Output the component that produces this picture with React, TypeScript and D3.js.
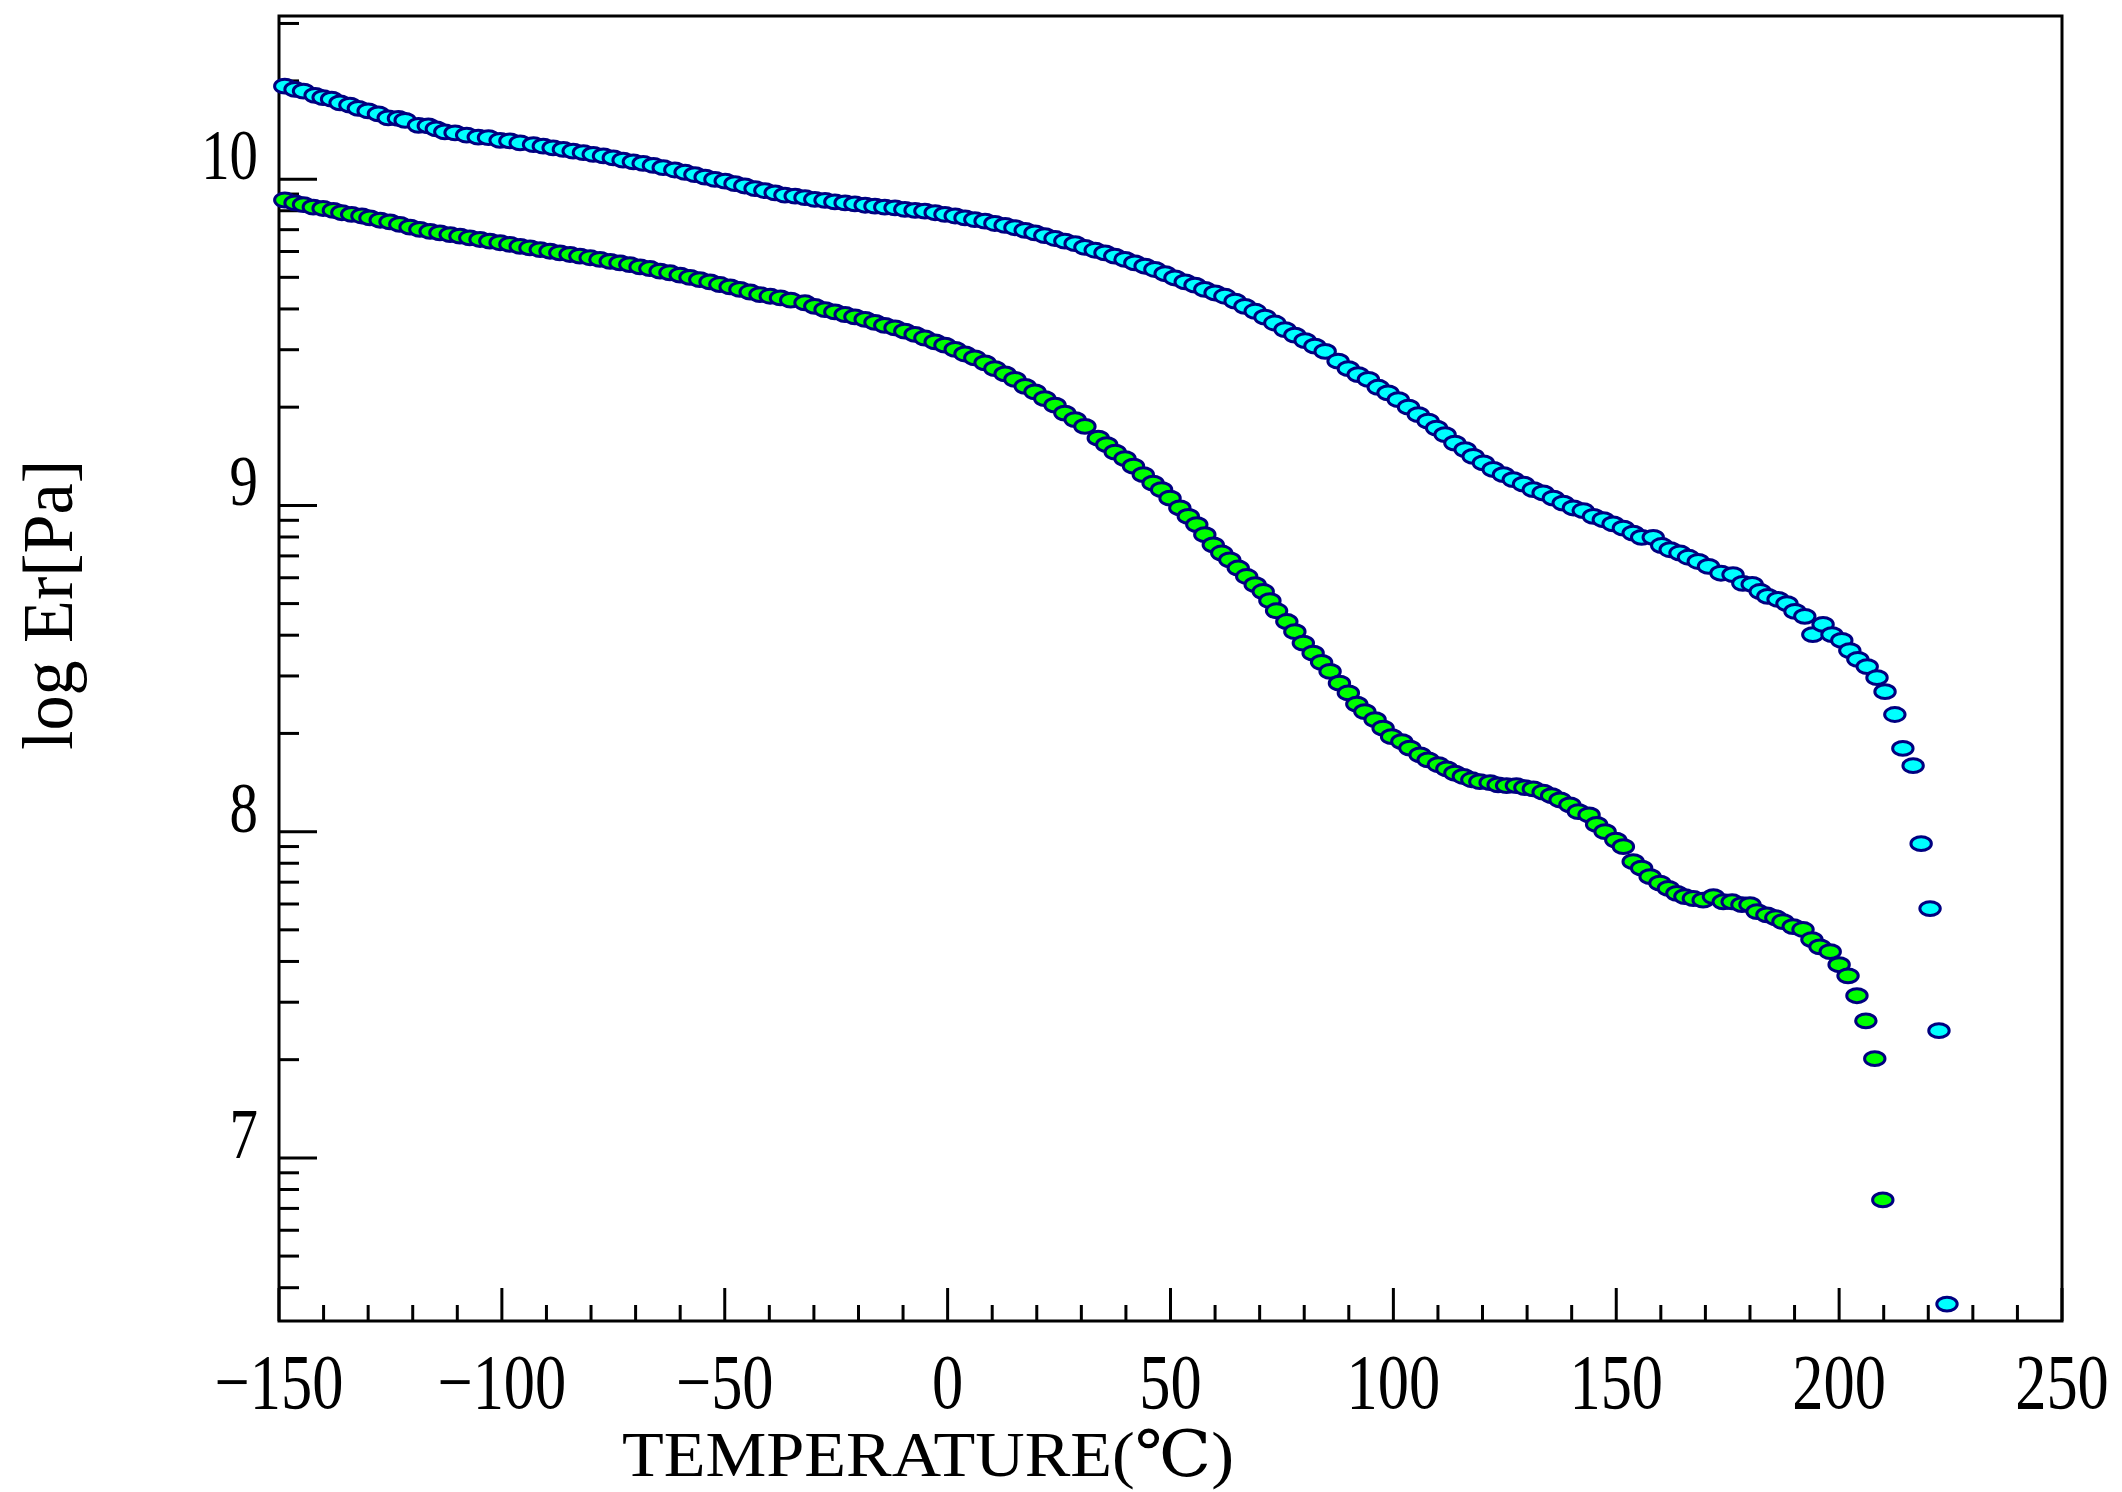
import React, { Component } from 'react';
import * as d3 from 'd3';

// upper series (cyan)
const upperTemps = [
    -148.7, -146.4, -144.5, -141.9, -140.1, -138.2, -136.3, -134.1, -132.2, -130.0,
    -127.7, -125.5, -123.2, -121.7, -118.7, -116.5, -114.7, -112.8, -110.5, -107.9,
    -105.3, -103.0, -100.4, -98.2, -95.9, -92.9, -90.7, -88.5, -86.2, -84.0,
    -81.7, -79.5, -77.2, -75.0, -72.8, -70.5, -68.3, -66.0, -63.8, -61.2,
    -58.9, -56.7, -54.4, -52.2, -49.9, -47.7, -45.5, -43.2, -41.0, -38.7,
    -36.5, -34.2, -32.0, -29.8, -27.5, -25.3, -23.0, -20.8, -18.5, -16.3,
    -14.1, -11.8, -9.6, -7.3, -5.1, -2.8, -0.6, 1.7, 3.9, 6.1,
    8.4, 10.6, 12.9, 15.1, 17.4, 19.6, 21.8, 24.1, 26.3, 28.6,
    30.8, 33.1, 35.3, 37.5, 39.8, 42.0, 44.3, 46.5, 48.8, 51.0,
    53.3, 55.5, 57.7, 60.0, 62.2, 64.5, 66.7, 69.0, 71.2, 73.4,
    75.7, 77.9, 80.2, 82.4, 84.7, 87.6, 89.9, 92.1, 94.4, 96.6,
    98.8, 101.1, 103.4, 105.6, 107.8, 109.7, 111.6, 113.8, 116.1, 117.9,
    120.2, 122.4, 124.7, 126.9, 129.2, 131.4, 133.6, 135.9, 138.1, 140.4,
    142.6, 144.9, 147.1, 149.3, 151.6, 153.8, 155.7, 158.3, 160.2, 162.1,
    164.3, 166.2, 168.4, 170.7, 173.5, 176.2, 178.4, 180.5, 182.3, 184.0,
    186.3, 188.3, 190.1, 192.3, 194.1, 196.4, 198.4, 200.6, 202.4, 204.2,
    206.3, 208.5, 210.3, 212.5, 214.3, 216.6, 218.4, 220.4, 222.4, 224.2,
];
const upperLogEr = [
    10.285, 10.275, 10.270, 10.257, 10.250, 10.245, 10.234, 10.227, 10.217, 10.209,
    10.200, 10.188, 10.186, 10.180, 10.165, 10.163, 10.154, 10.145, 10.142, 10.135,
    10.129, 10.127, 10.119, 10.117, 10.111, 10.106, 10.101, 10.096, 10.091, 10.086,
    10.081, 10.076, 10.071, 10.065, 10.058, 10.053, 10.048, 10.042, 10.035, 10.028,
    10.021, 10.014, 10.006, 9.999, 9.994, 9.986, 9.979, 9.971, 9.965, 9.958,
    9.951, 9.948, 9.943, 9.938, 9.935, 9.930, 9.927, 9.924, 9.920, 9.917,
    9.914, 9.912, 9.907, 9.904, 9.902, 9.897, 9.892, 9.887, 9.881, 9.876,
    9.871, 9.864, 9.858, 9.851, 9.843, 9.835, 9.827, 9.818, 9.810, 9.802,
    9.791, 9.782, 9.774, 9.764, 9.754, 9.743, 9.733, 9.723, 9.710, 9.697,
    9.685, 9.675, 9.662, 9.651, 9.641, 9.626, 9.610, 9.595, 9.577, 9.559,
    9.539, 9.522, 9.505, 9.488, 9.472, 9.442, 9.419, 9.401, 9.386, 9.362,
    9.345, 9.324, 9.301, 9.278, 9.258, 9.237, 9.217, 9.191, 9.171, 9.150,
    9.130, 9.110, 9.094, 9.079, 9.065, 9.048, 9.038, 9.022, 9.007, 8.992,
    8.984, 8.966, 8.956, 8.943, 8.930, 8.915, 8.902, 8.902, 8.877, 8.864,
    8.854, 8.841, 8.828, 8.813, 8.792, 8.788, 8.761, 8.758, 8.736, 8.721,
    8.712, 8.699, 8.675, 8.660, 8.604, 8.635, 8.604, 8.586, 8.555, 8.528,
    8.506, 8.472, 8.429, 8.359, 8.255, 8.202, 7.963, 7.764, 7.390, 6.552,
];

// lower series (green)
const lowerTemps = [
    -148.7, -146.4, -144.5, -142.3, -140.1, -137.8, -135.9, -133.7, -131.4, -129.6,
    -127.3, -125.1, -122.9, -120.6, -118.4, -116.1, -113.9, -111.6, -109.4, -107.2,
    -104.9, -102.7, -100.4, -98.2, -95.9, -93.7, -91.4, -89.2, -87.0, -84.7,
    -82.5, -80.2, -78.0, -75.7, -73.5, -71.3, -69.0, -66.8, -64.5, -62.3,
    -60.0, -57.8, -55.6, -53.3, -51.1, -48.8, -46.6, -44.3, -42.1, -39.8,
    -37.5, -35.2, -32.0, -29.8, -27.5, -25.3, -23.0, -20.8, -18.5, -16.3,
    -14.1, -11.8, -9.6, -7.3, -5.1, -2.8, -0.6, 1.7, 3.9, 6.1,
    8.4, 10.6, 12.9, 15.1, 17.4, 19.6, 21.8, 24.1, 26.3, 28.6,
    30.8, 33.8, 35.7, 37.6, 39.8, 41.7, 43.9, 46.1, 48.0, 49.9,
    52.1, 54.0, 55.9, 57.7, 59.6, 61.5, 63.3, 65.2, 67.1, 69.0,
    70.8, 72.3, 73.8, 76.1, 77.9, 79.8, 82.0, 83.9, 85.8, 87.9, 89.9,
    91.8, 93.6, 95.9, 97.7, 99.6, 101.9, 103.7, 106.0, 107.8, 110.1,
    112.0, 113.8, 115.7, 117.6, 119.4, 121.7, 123.5, 125.4, 127.6, 129.5,
    131.4, 133.6, 135.5, 137.4, 139.6, 141.5, 143.9, 145.6, 147.5, 149.9,
    151.6, 153.8, 155.7, 157.6, 159.8, 161.7, 163.6, 165.4, 167.3, 169.5,
    171.8, 174.0, 176.0, 178.2, 180.0, 181.6, 183.8, 185.8, 187.4, 189.7,
    191.9, 193.9, 195.7, 198.0, 200.0, 202.0, 204.0, 206.0, 208.0, 209.8,
];
const lowerLogEr = [
    9.936, 9.927, 9.922, 9.914, 9.910, 9.904, 9.897, 9.892, 9.887, 9.881,
    9.874, 9.869, 9.861, 9.853, 9.846, 9.840, 9.835, 9.830, 9.825, 9.820,
    9.815, 9.810, 9.805, 9.800, 9.794, 9.789, 9.784, 9.779, 9.774, 9.769,
    9.764, 9.759, 9.754, 9.748, 9.743, 9.738, 9.731, 9.726, 9.718, 9.713,
    9.706, 9.699, 9.692, 9.685, 9.677, 9.670, 9.662, 9.654, 9.646, 9.641,
    9.636, 9.629, 9.621, 9.610, 9.600, 9.593, 9.585, 9.578, 9.570, 9.561,
    9.552, 9.544, 9.534, 9.524, 9.513, 9.501, 9.491, 9.478, 9.464, 9.452,
    9.437, 9.419, 9.403, 9.386, 9.365, 9.348, 9.327, 9.307, 9.283, 9.263,
    9.242, 9.206, 9.186, 9.163, 9.143, 9.120, 9.094, 9.068, 9.048, 9.022,
    8.992, 8.966, 8.941, 8.910, 8.879, 8.854, 8.833, 8.808, 8.782, 8.757,
    8.736, 8.708, 8.677, 8.644, 8.613, 8.578, 8.547, 8.519, 8.491, 8.455, 8.425,
    8.391, 8.368, 8.343, 8.317, 8.291, 8.276, 8.256, 8.235, 8.220, 8.205,
    8.192, 8.179, 8.169, 8.159, 8.153, 8.150, 8.143, 8.141, 8.141, 8.135,
    8.131, 8.121, 8.110, 8.097, 8.082, 8.061, 8.051, 8.022, 8.000, 7.974,
    7.954, 7.908, 7.888, 7.862, 7.842, 7.826, 7.811, 7.801, 7.795, 7.790,
    7.801, 7.785, 7.785, 7.776, 7.776, 7.755, 7.745, 7.736, 7.724, 7.709,
    7.700, 7.669, 7.647, 7.632, 7.592, 7.558, 7.497, 7.420, 7.304, 6.871,
];

const xMajorTicks = [-150, -100, -50, 0, 50, 100, 150, 200, 250];
const yMajorTicks = [7, 8, 9, 10];
const xTitle = 'TEMPERATURE(℃)';
const yTitle = 'log Er[Pa]';

const WIDTH = 2122;
const HEIGHT = 1492;
const FONT = '"Liberation Serif", "DejaVu Serif", "Noto Sans CJK JP", serif';

class App extends Component {

    svgRef = React.createRef<SVGSVGElement>();

    render() {
        return (
            <svg ref={this.svgRef} width={WIDTH} height={HEIGHT}
                style={{ position: 'absolute', left: 0, top: 0, background: '#ffffff' }}>
            </svg>
        );
    }

    componentDidMount() {
        this.initGraph();
    }

    initGraph = () => {
        const svg = d3.select(this.svgRef.current);
        svg.selectAll('*').remove();

        const left = 279, right = 2062, top = 16, bottom = 1321;
        const x = d3.scaleLinear().domain([-150, 250]).range([left, right]);
        const y = d3.scaleLinear().domain([6.5, 10.5]).range([bottom, top]);

        const axes = svg.append('g').attr('stroke', '#000').attr('stroke-width', 3);

        // x ticks, pointing inward from the bottom line
        const xMinor = x.ticks(40).filter(v => v % 50 !== 0);
        axes.selectAll('.x-minor').data(xMinor).enter().append('line')
            .attr('x1', d => x(d)).attr('x2', d => x(d))
            .attr('y1', bottom).attr('y2', bottom - 16);
        axes.selectAll('.x-major').data(xMajorTicks).enter().append('line')
            .attr('x1', d => x(d)).attr('x2', d => x(d))
            .attr('y1', bottom).attr('y2', bottom - 33);

        // y ticks: log-style minor ticks inside each decade
        const yMinor = d3.range(6, 11)
            .flatMap(n => d3.range(2, 10).map(k => n + Math.log10(k)))
            .filter(v => v > 6.5 && v < 10.5);
        axes.selectAll('.y-minor').data(yMinor).enter().append('line')
            .attr('x1', left).attr('x2', left + 20)
            .attr('y1', d => y(d)).attr('y2', d => y(d));
        axes.selectAll('.y-major').data(yMajorTicks).enter().append('line')
            .attr('x1', left).attr('x2', left + 38)
            .attr('y1', d => y(d)).attr('y2', d => y(d));

        axes.append('rect')
            .attr('x', left).attr('y', top)
            .attr('width', right - left).attr('height', bottom - top)
            .attr('fill', 'none');

        // tick labels (narrow serif look)
        svg.selectAll('.x-label').data(xMajorTicks).enter().append('text')
            .attr('transform', d => 'translate(' + x(d) + ',' + 1408 + ') scale(0.8,1)')
            .attr('text-anchor', 'middle')
            .style('font-family', FONT)
            .style('font-size', '78px')
            .text(d => d < 0 ? '\u2212' + Math.abs(d) : String(d));

        svg.selectAll('.y-label').data(yMajorTicks).enter().append('text')
            .attr('transform', d => 'translate(' + 258 + ',' + y(d) + ') scale(0.8,1)')
            .attr('text-anchor', 'end')
            .style('font-family', FONT)
            .style('font-size', '71px')
            .text(d => String(d));

        svg.append('text')
            .attr('x', 622).attr('y', 1476)
            .attr('textLength', 612).attr('lengthAdjust', 'spacingAndGlyphs')
            .style('font-family', FONT)
            .style('font-size', '64px')
            .text(xTitle);

        svg.append('text')
            .attr('transform', 'translate(72,605) rotate(-90)')
            .attr('text-anchor', 'middle')
            .attr('textLength', 290).attr('lengthAdjust', 'spacingAndGlyphs')
            .style('font-family', FONT)
            .style('font-size', '72px')
            .text(yTitle);

        const series = [
            { temps: upperTemps, values: upperLogEr, fill: '#00ffff' },
            { temps: lowerTemps, values: lowerLogEr, fill: '#00ff00' },
        ];

        series.forEach(s => {
            const pts = s.temps.map((t, i) => [t, s.values[i]]);
            svg.append('g').selectAll('ellipse').data(pts).enter().append('ellipse')
                .attr('cx', d => x(d[0]))
                .attr('cy', d => y(d[1]))
                .attr('rx', 10.2)
                .attr('ry', 6.9)
                .attr('fill', s.fill)
                .attr('stroke', '#000080')
                .attr('stroke-width', 3);
        });
    }
}

export default App;
